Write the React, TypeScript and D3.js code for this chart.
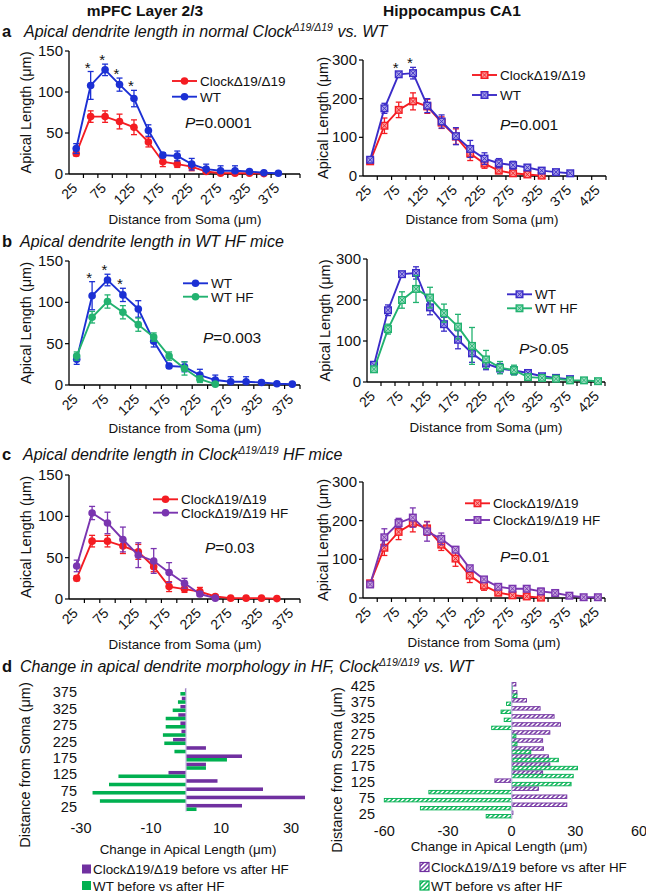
import React from "react";
import * as d3 from "d3";

const FONT = "'Liberation Sans', Arial, Helvetica, sans-serif";

// distances (µm)
const distMpfcA = [25, 50, 75, 100, 125, 150, 175, 200, 225, 250, 275, 300, 325, 350, 375, 400];
const distMpfc = [25, 50, 75, 100, 125, 150, 175, 200, 225, 250, 275, 300, 325, 350, 375];
const distCa1 = [25, 50, 75, 100, 125, 150, 175, 200, 225, 250, 275, 300, 325, 350, 375, 400, 425];

// mPFC layer 2/3 apical length (mean, sem)
const wtMpfc = [31, 108, 127, 109, 92, 53, 23, 22, 12, 6, 4, 4, 3, 1.5, 1];
const wtMpfcErr = [6, 17, 7, 8, 10, 7, 3, 6, 7, 6, 6, 6, 2, 2, 2];
const clockMpfc = [25, 70, 70, 64, 57, 39, 15, 12, 9, 3, 1, 1, 1, 0.5];
const clockMpfcErr = [3, 7, 7, 9, 9, 6, 6, 4, 5, 2, 1, 1, 1, 1];
const wtHfMpfc = [35, 82, 101, 88, 73, 58, 35, 20, 7, 1];
const wtHfMpfcErr = [5, 7, 8, 8, 8, 5, 5, 8, 4, 1];
const clockHfMpfc = [40, 104, 92, 72, 53, 46, 32, 19, 6, 1];
const clockHfMpfcErr = [7, 8, 13, 15, 15, 15, 12, 6, 3, 1];

// hippocampus CA1 apical length (mean, sem)
const wtCa1 = [42, 175, 263, 266, 182, 141, 103, 70, 45, 33, 28, 22, 14, 10, 7];
const wtCa1Err = [5, 13, 6, 15, 18, 17, 22, 22, 15, 12, 10, 6, 5, 4, 3];
const clockCa1 = [38, 130, 171, 193, 180, 138, 102, 58, 32, 14, 7, 4, 1];
const clockCa1Err = [5, 20, 20, 22, 18, 15, 20, 18, 12, 8, 5, 5, 2];
const wtHfCa1 = [31, 129, 200, 227, 206, 168, 135, 88, 55, 35, 29, 12, 10, 8, 4, 4, 2];
const wtHfCa1Err = [5, 12, 20, 33, 25, 22, 30, 45, 22, 15, 12, 6, 5, 4, 3, 3, 2];
const clockHfCa1 = [35, 157, 194, 208, 172, 153, 125, 77, 48, 29, 24, 24, 17, 13, 6, 2, 2];
const clockHfCa1Err = [5, 22, 12, 25, 25, 15, 8, 5, 5, 5, 5, 8, 8, 5, 3, 2, 2];

// significant distances (*)
const sigA = [50, 75, 100, 125];
const sigB = [50, 75, 100];
const sigACa1 = [75, 100];

// panel d: change in apical length before vs after HF
const clockChangeMpfc = [16, 34, 22, 9, -5, 5.7, 16, 5.7, -3.7, -1.3, -1.6, -2.2, -1.6, -1.2, -0.3];
const wtChangeMpfc = [3, -24.6, -26.7, -22, -19.3, 5.7, 11.7, -3.3, -6.2, -6.6, -5.8, -5.8, -3.8, -2.3, -1.6];
const clockChangeCa1 = [0.6, 26, 26, 12.6, -7.9, 14.6, 18, 17.3, 15, 14.6, 18, 23, 20, 13.4, 7, 2.5, 2];
const wtChangeCa1 = [-12, -43, -60, -39, 28, 29, 31, 22, 9, 2.5, 2, -9.4, -3.5, -5, -2.4, 2.5, 0];

const RED = "#f41c22";
const BLUE = "#1c30d4";
const INDIGO = "#3b2cc8";
const GREEN = "#22b270";
const PURPLE = "#7a35b0";
const BAR_PURPLE = "#7030a0";
const BAR_GREEN = "#00b050";
const INK = "#111";

type Series = {
  label: string;
  values: number[];
  errors: number[];
  color: string;
  square?: boolean;
};

function Marker({ x, y, color, square }: { x: number; y: number; color: string; square?: boolean }) {
  if (!square) return <circle cx={x} cy={y} r={3.8} fill={color} />;
  const s = 3.3;
  return (
    <g>
      <rect x={x - s} y={y - s} width={2 * s} height={2 * s} fill="#fff" />
      <rect x={x - s} y={y - s} width={2 * s} height={2 * s} fill={color} fillOpacity={0.45} stroke={color} strokeWidth={1.4} />
      <line x1={x - s} y1={y - s} x2={x + s} y2={y + s} stroke={color} strokeWidth={0.9} />
      <line x1={x - s} y1={y + s} x2={x + s} y2={y - s} stroke={color} strokeWidth={0.9} />
    </g>
  );
}

type LineProps = {
  cats: number[];
  series: Series[];
  x0: number;
  x1: number;
  yTop: number;
  yBottom: number;
  yMax: number;
  yStep: number;
  stars?: number[];
  starSeries?: number;
  legendX: number;
  legendY: number[];
  pX: number;
  pY: number;
  pText: string;
  yTitleX: number;
  xTitleX: number;
  xTitleY: number;
};

function LinePanel(p: LineProps) {
  const x = d3.scaleBand<number>().domain(p.cats).range([p.x0, p.x1]);
  const y = d3.scaleLinear().domain([0, p.yMax]).range([p.yBottom, p.yTop]);
  const bw = x.bandwidth();
  const cx = (c: number) => (x(c) ?? 0) + bw / 2;
  const yTicks = d3.range(0, p.yMax + 1, p.yStep);
  const line = d3
    .line<number>()
    .x((_, i) => cx(p.cats[i]))
    .y((v) => y(v));

  const starS = p.series[p.starSeries ?? 0];

  return (
    <g fontFamily={FONT} fill={INK}>
      {/* y axis */}
      <line x1={p.x0} x2={p.x0} y1={p.yTop} y2={p.yBottom} stroke="#000" strokeWidth={1.3} />
      {yTicks.map((t) => (
        <g key={t}>
          <line x1={p.x0 - 4} x2={p.x0} y1={y(t)} y2={y(t)} stroke="#000" strokeWidth={1.2} />
          <text x={p.x0 - 6} y={y(t) + 5} textAnchor="end" fontSize={15}>
            {t}
          </text>
        </g>
      ))}
      {/* x axis */}
      <line x1={p.x0} x2={p.x1} y1={p.yBottom} y2={p.yBottom} stroke="#000" strokeWidth={1.3} />
      {p.cats.map((c) => (
        <line key={"t" + c} x1={(x(c) ?? 0) + bw} x2={(x(c) ?? 0) + bw} y1={p.yBottom} y2={p.yBottom + 4} stroke="#000" strokeWidth={1.2} />
      ))}
      {p.cats.map((c, i) =>
        i % 2 === 0 ? (
          <text
            key={"l" + c}
            textAnchor="end"
            fontSize={14}
            transform={`translate(${cx(c) + 2},${p.yBottom + 15}) rotate(-45)`}
          >
            {c}
          </text>
        ) : null
      )}
      <text x={p.xTitleX} y={p.xTitleY + 5} textAnchor="middle" fontSize={13.4}>
        Distance from Soma (μm)
      </text>
      <text
        transform={`translate(${p.yTitleX + 5},${(p.yTop + p.yBottom) / 2}) rotate(-90)`}
        textAnchor="middle"
        fontSize={14.5}
      >
        Apical Length (μm)
      </text>

      {/* series */}
      {p.series.map((s) => (
        <g key={s.label}>
          {s.values.map((v, i) => {
            const xx = cx(p.cats[i]);
            const e = s.errors[i];
            return (
              <g key={i} stroke={s.color} strokeWidth={1.3}>
                <line x1={xx} x2={xx} y1={y(Math.max(0, v - e))} y2={y(v + e)} />
                <line x1={xx - 3} x2={xx + 3} y1={y(v + e)} y2={y(v + e)} />
                {v - e > 0 && <line x1={xx - 3} x2={xx + 3} y1={y(v - e)} y2={y(v - e)} />}
              </g>
            );
          })}
          <path d={line(s.values) ?? ""} fill="none" stroke={s.color} strokeWidth={1.9} />
          {s.values.map((v, i) => (
            <Marker key={i} x={cx(p.cats[i])} y={y(v)} color={s.color} square={s.square} />
          ))}
        </g>
      ))}

      {/* significance */}
      {(p.stars ?? []).map((c) => {
        const i = p.cats.indexOf(c);
        const top = y(starS.values[i] + starS.errors[i]);
        return (
          <text key={"s" + c} x={cx(c) - 3} y={top + 1} textAnchor="middle" fontSize={15}>
            *
          </text>
        );
      })}

      {/* legend */}
      {p.series.map((s, k) => (
        <g key={"lg" + s.label}>
          <line x1={p.legendX} x2={p.legendX + 25} y1={p.legendY[k]} y2={p.legendY[k]} stroke={s.color} strokeWidth={1.9} />
          <Marker x={p.legendX + 12.5} y={p.legendY[k]} color={s.color} square={s.square} />
          <text x={p.legendX + 28} y={p.legendY[k] + 5} fontSize={13.5}>
            {s.label}
          </text>
        </g>
      ))}
      <text x={p.pX} y={p.pY + 5.5} fontSize={15.5}>
        <tspan fontStyle="italic">P</tspan>
        {p.pText}
      </text>
    </g>
  );
}

type BarSeries = { label: string; values: number[]; color: string };

type BarProps = {
  cats: number[];
  series: BarSeries[];
  hatched: boolean;
  domain: [number, number];
  x0: number;
  x1: number;
  yBottom: number;
  yTop: number;
  xTicks: number[];
  xTickY: number;
  labelX: number;
  xTitleX: number;
  xTitleY: number;
  yTitleX: number;
  yTitleY: number;
  legendX: number;
  legendY: number[];
  idp: string;
};

function BarPanel(p: BarProps) {
  const y = d3.scaleBand<number>().domain(p.cats).range([p.yBottom, p.yTop]);
  const x = d3.scaleLinear().domain(p.domain).range([p.x0, p.x1]);
  const bw = y.bandwidth();
  const h = bw * 0.43;
  const fillFor = (k: number) => (p.hatched ? `url(#${p.idp}${k})` : p.series[k].color);

  return (
    <g fontFamily={FONT} fill={INK}>
      <defs>
        {p.series.map((s, k) => (
          <pattern
            key={k}
            id={`${p.idp}${k}`}
            patternUnits="userSpaceOnUse"
            width={3.2}
            height={3.2}
            patternTransform="rotate(45)"
          >
            <rect width={3.2} height={3.2} fill="#fff" />
            <line x1={0.8} y1={0} x2={0.8} y2={3.2} stroke={s.color} strokeWidth={1.4} />
          </pattern>
        ))}
      </defs>
      {p.series.map((s, k) =>
        s.values.map((v, i) => {
          const c = p.cats[i];
          const mid = (y(c) ?? 0) + bw / 2;
          const yy = k === 0 ? mid - h : mid;
          const xa = Math.min(x(0), x(v));
          const w = Math.abs(x(v) - x(0));
          return (
            <rect
              key={k + "-" + i}
              x={xa}
              y={yy}
              width={Math.max(w, 0.5)}
              height={h}
              fill={fillFor(k)}
              stroke={p.hatched ? s.color : "none"}
              strokeWidth={p.hatched ? 0.9 : 0}
            />
          );
        })
      )}
      <line x1={x(0)} x2={x(0)} y1={p.yTop} y2={p.yBottom} stroke="#c4bde0" strokeWidth={1.2} />
      {p.cats.map((c, i) =>
        i % 2 === 0 ? (
          <text key={"yl" + c} x={p.labelX} y={(y(c) ?? 0) + bw / 2 + 5} textAnchor="end" fontSize={14.5}>
            {c}
          </text>
        ) : null
      )}
      {p.xTicks.map((t) => (
        <text key={"xt" + t} x={x(t)} y={p.xTickY + 5} textAnchor="middle" fontSize={14.5}>
          {t}
        </text>
      ))}
      <text x={p.xTitleX} y={p.xTitleY + 5} textAnchor="middle" fontSize={13.4}>
        Change in Apical Length (μm)
      </text>
      <text
        transform={`translate(${p.yTitleX + 5},${p.yTitleY}) rotate(-90)`}
        textAnchor="middle"
        fontSize={14.5}
      >
        Distance from Soma (μm)
      </text>
      {p.series.map((s, k) => (
        <g key={"lg" + k}>
          <rect
            x={p.legendX}
            y={p.legendY[k] - 4.5}
            width={9}
            height={9}
            fill={fillFor(k)}
            stroke={p.hatched ? s.color : "none"}
            strokeWidth={1.2}
          />
          <text x={p.legendX + 11} y={p.legendY[k] + 5} fontSize={13.4}>
            {s.label}
          </text>
        </g>
      ))}
    </g>
  );
}

function Title({ letter, x, y, children }: { letter: string; x: number; y: number; children: React.ReactNode }) {
  return (
    <g fontFamily={FONT} fill={INK}>
      <text x={2} y={y} fontWeight="bold" fontSize={16.5}>
        {letter}
      </text>
      <text x={x} y={y} fontStyle="italic" fontSize={16}>
        {children}
      </text>
    </g>
  );
}

const Sup = () => (
  <>
    <tspan fontSize={10.5} dy={-6}>
      Δ19/Δ19
    </tspan>
    <tspan dy={6}> </tspan>
  </>
);

export default function App() {
  const clockL: Series = { label: "ClockΔ19/Δ19", values: clockMpfc, errors: clockMpfcErr, color: RED };
  const wtL: Series = { label: "WT", values: wtMpfc, errors: wtMpfcErr, color: BLUE };
  const wtHfL: Series = { label: "WT HF", values: wtHfMpfc, errors: wtHfMpfcErr, color: GREEN };
  const clockHfL: Series = { label: "ClockΔ19/Δ19 HF", values: clockHfMpfc, errors: clockHfMpfcErr, color: PURPLE };
  const clockR: Series = { label: "ClockΔ19/Δ19", values: clockCa1, errors: clockCa1Err, color: RED, square: true };
  const wtR: Series = { label: "WT", values: wtCa1, errors: wtCa1Err, color: INDIGO, square: true };
  const wtHfR: Series = { label: "WT HF", values: wtHfCa1, errors: wtHfCa1Err, color: GREEN, square: true };
  const clockHfR: Series = { label: "ClockΔ19/Δ19 HF", values: clockHfCa1, errors: clockHfCa1Err, color: PURPLE, square: true };

  return (
    <svg width={646} height={894} style={{ position: "absolute", left: 0, top: 0, background: "#fff" }}>
      <rect width={646} height={894} fill="#fff" />
      <g fontFamily={FONT} fontWeight="bold" fontSize={15.5} fill={INK} textAnchor="middle">
        <text x={145} y={16}>mPFC Layer 2/3</text>
        <text x={452} y={16}>Hippocampus CA1</text>
      </g>

      <Title letter="a" x={24} y={37}>
        Apical dendrite length in normal Clock<Sup />vs. WT
      </Title>
      <LinePanel
        cats={distMpfcA} series={[clockL, wtL]} x0={69} x1={300} yTop={51} yBottom={174} yMax={150} yStep={50}
        stars={sigA} starSeries={1} legendX={172} legendY={[81, 96.7]} pX={185} pY={122} pText="=0.0001"
        yTitleX={26} xTitleX={185} xTitleY={219}
      />
      <LinePanel
        cats={distCa1} series={[clockR, wtR]} x0={363} x1={606} yTop={60} yBottom={176} yMax={300} yStep={100}
        stars={sigACa1} starSeries={1} legendX={472} legendY={[75, 95]} pX={500} pY={124} pText="=0.001"
        yTitleX={323} xTitleX={482} xTitleY={219}
      />

      <Title letter="b" x={20} y={247}>
        Apical dendrite length in WT HF mice
      </Title>
      <LinePanel
        cats={distMpfc} series={[wtL, wtHfL]} x0={69} x1={300} yTop={261} yBottom={385} yMax={150} yStep={50}
        stars={sigB} starSeries={0} legendX={183} legendY={[283.3, 296.7]} pX={203} pY={337} pText="=0.003"
        yTitleX={26} xTitleX={185} xTitleY={428}
      />
      <LinePanel
        cats={distCa1} series={[wtR, wtHfR]} x0={367} x1={605} yTop={259} yBottom={382} yMax={300} yStep={100}
        legendX={507} legendY={[294.3, 308.3]} pX={519} pY={348} pText=">0.05"
        yTitleX={325} xTitleX={486} xTitleY={427}
      />

      <Title letter="c" x={23} y={460}>
        Apical dendrite length in Clock<Sup />HF mice
      </Title>
      <LinePanel
        cats={distMpfc} series={[clockL, clockHfL]} x0={69} x1={300} yTop={475} yBottom={599} yMax={150} yStep={50}
        legendX={153} legendY={[499.3, 512.7]} pX={205} pY={547} pText="=0.03"
        yTitleX={26} xTitleX={185} xTitleY={644}
      />
      <LinePanel
        cats={distCa1} series={[clockR, clockHfR]} x0={363} x1={605} yTop={482} yBottom={598} yMax={300} yStep={100}
        legendX={465} legendY={[503.3, 520]} pX={500} pY={556} pText="=0.01"
        yTitleX={323} xTitleX={484} xTitleY={642}
      />

      <Title letter="d" x={20} y={672}>
        Change in apical dendrite morphology in HF, Clock<Sup />vs. WT
      </Title>
      <BarPanel
        idp="hl"
        cats={distMpfc}
        series={[
          { label: "ClockΔ19/Δ19 before vs after HF", values: clockChangeMpfc, color: BAR_PURPLE },
          { label: "WT before vs after HF", values: wtChangeMpfc, color: BAR_GREEN },
        ]}
        hatched={false}
        domain={[-30, 30]}
        x0={81}
        x1={291}
        yBottom={811.6}
        yTop={687.9}
        xTicks={[-30, -10, 10, 30]}
        xTickY={828}
        labelX={77}
        xTitleX={188}
        xTitleY={849}
        yTitleX={25}
        yTitleY={765}
        legendX={82}
        legendY={[869, 885.5]}
      />
      <BarPanel
        idp="hr"
        cats={distCa1}
        series={[
          { label: "ClockΔ19/Δ19 before vs after HF", values: clockChangeCa1, color: BAR_PURPLE },
          { label: "WT before vs after HF", values: wtChangeCa1, color: BAR_GREEN },
        ]}
        hatched={true}
        domain={[-60, 60]}
        x0={384.3}
        x1={639}
        yBottom={818.5}
        yTop={682}
        xTicks={[-60, -30, 0, 30, 60]}
        xTickY={831}
        labelX={375}
        xTitleX={499}
        xTitleY={846}
        yTitleX={337}
        yTitleY={770}
        legendX={420}
        legendY={[867, 885.5]}
      />
    </svg>
  );
}
